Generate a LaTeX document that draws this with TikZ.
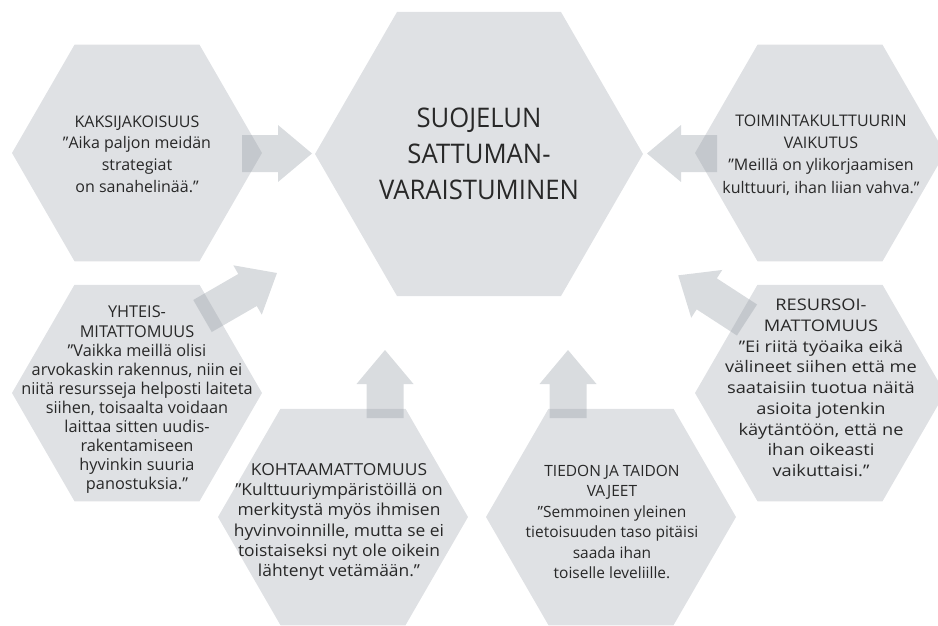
\documentclass[tikz,border=0pt]{standalone}
\usepackage{fontspec}
\setmainfont{Open Sans}
\newfontfamily\widefont[FakeStretch=1.14]{Open Sans}
\newfontfamily\semiwidefont[FakeStretch=1.055]{Open Sans}
\newfontfamily\narrowfont[FakeStretch=0.95]{Open Sans}
\definecolor{hexgray}{RGB}{223,225,228}
\definecolor{arrowgray}{RGB}{150,158,166}
\definecolor{textgray}{RGB}{40,40,40}
\newcommand\hexagonat[2]{\fill[hexfill] (#1) +(#2,0) -- +(#2/2,{#2*0.866}) -- +(-#2/2,{#2*0.866}) -- +(-#2,0) -- +(-#2/2,{-#2*0.866}) -- +(#2/2,{-#2*0.866}) -- cycle;}
\begin{document}
\begin{tikzpicture}[x=1pt,y=-1pt,
  hexfill/.style={fill=hexgray},
  arrowfill/.style={fill=arrowgray, fill opacity=0.36},
  label/.style={text=textgray, align=center, inner sep=0},
  blockarrow/.pic={\fill[arrowfill] (0,-18.5) -- (#1-34,-18.5) -- (#1-34,-28.5) -- (#1,0) -- (#1-34,28.5) -- (#1-34,18.5) -- (0,18.5) -- cycle;}
]
\useasboundingbox (0,0) rectangle (938,626);
% hexagon centres
\coordinate (ctr) at (479,154);
\coordinate (kaks) at (137,153);
\coordinate (toim) at (820,153);
\coordinate (yht) at (137,393);
\coordinate (res) at (820,393);
\coordinate (koh) at (343,517);
\coordinate (tie) at (611,517);
\hexagonat{ctr}{164}
\hexagonat{kaks}{125}
\hexagonat{toim}{125}
\hexagonat{yht}{125}
\hexagonat{res}{125}
\hexagonat{koh}{125}
\hexagonat{tie}{125}
% block arrows
\coordinate (kaks-a) at (242,153.5);
\coordinate (toim-a) at (717,153.5);
\coordinate (yht-a) at (202.5,316);
\coordinate (res-a) at (747,320);
\coordinate (koh-a) at (385,418);
\coordinate (tie-a) at (568,418);
\pic at (kaks-a) {blockarrow=70};
\pic[rotate=180] at (toim-a) {blockarrow=70};
\pic[rotate=30] at (yht-a) {blockarrow=86};
\pic[rotate=147] at (res-a) {blockarrow=82};
\pic[rotate=90] at (koh-a) {blockarrow=68};
\pic[rotate=90] at (tie-a) {blockarrow=68};
% texts
\node[label, font=\narrowfont\fontsize{27}{36}\selectfont] (ctr-t) at (479,154) {SUOJELUN\\SATTUMAN-\\VARAISTUMINEN};
\node[label, font=\fontsize{16}{21.7}\selectfont] (kaks-t) at (137,154) {KAKSIJAKOISUUS\\”Aika paljon meidän\\strategiat\\on sanahelinää.”};
\node[label, font=\fontsize{16}{22.2}\selectfont] (toim-t) at (821,155) {TOIMINTAKULTTUURIN\\VAIKUTUS\\”Meillä on ylikorjaamisen\\kulttuuri, ihan liian vahva.”};
\node[label, font=\fontsize{16.3}{19.1}\selectfont] (yht-t) at (137,400) {YHTEIS-\\MITATTOMUUS\\”Vaikka meillä olisi\\arvokaskin rakennus, niin ei\\niitä resursseja helposti laiteta\\siihen, toisaalta voidaan\\laittaa sitten uudis-\\rakentamiseen\\hyvinkin suuria\\panostuksia.”};
\node[label, font=\widefont\fontsize{16}{20.7}\selectfont] (res-t) at (821,388) {RESURSOI-\\MATTOMUUS\\”Ei riitä työaika eikä\\välineet siihen että me\\saataisiin tuotua näitä\\asioita jotenkin\\käytäntöön, että ne\\ihan oikeasti\\vaikuttaisi.”};
\node[label, font=\semiwidefont\fontsize{16.5}{20.2}\selectfont] (koh-t) at (339,522) {KOHTAAMATTOMUUS\\”Kulttuuriympäristöillä on\\merkitystä myös ihmisen\\hyvinvoinnille, mutta se ei\\toistaiseksi nyt ole oikein\\lähtenyt vetämään.”};
\node[label, font=\fontsize{15.5}{20.4}\selectfont] (tie-t) at (612,522) {TIEDON JA TAIDON\\VAJEET\\”Semmoinen yleinen\\tietoisuuden taso pitäisi\\saada ihan\\toiselle leveliille.};
\end{tikzpicture}
\end{document}
